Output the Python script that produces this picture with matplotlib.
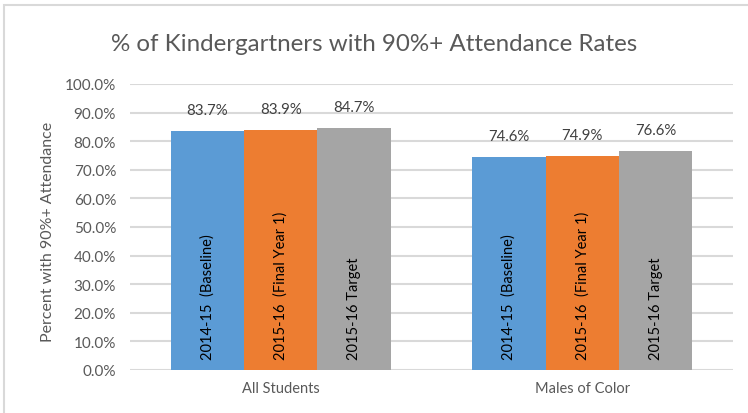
import matplotlib
matplotlib.use('Agg')
import matplotlib.pyplot as plt
import numpy as np
from matplotlib.ticker import FuncFormatter
from matplotlib.patches import Rectangle

categories = ['All Students', 'Males of Color']
series_names = ['2014-15  (Baseline)', '2015-16  (Final Year 1)', '2015-16 Target']
baseline = [83.7, 74.6]
final_year1 = [83.9, 74.9]
target = [84.7, 76.6]
colors = ['#5B9BD5', '#ED7D31', '#A5A5A5']

plt.rcParams['font.family'] = ['Lato', 'DejaVu Sans']
text_gray = '#595959'

fig = plt.figure(figsize=(7.48, 4.14), dpi=100)
fig.patches.append(Rectangle((4 / 748, -0.1), 1.2, (414 - 6) / 414 + 0.1,
                             transform=fig.transFigure, fill=False,
                             edgecolor='#D9D9D9', lw=1.5))
ax = fig.add_axes([0.1738, 0.1039, 0.8062, 0.6908])

x = np.arange(len(categories))
w = 0.243
for i, (vals, name, c) in enumerate(zip([baseline, final_year1, target], series_names, colors)):
    pos = x + (i - 1) * w
    bars = ax.bar(pos, vals, w, color=c, zorder=2)
    for b, v in zip(bars, vals):
        ax.annotate('%.1f%%' % v, (b.get_x() + b.get_width() / 2, v),
                    xytext=(0, 10), textcoords='offset points',
                    ha='center', va='bottom', fontsize=10.8, color='#404040')
        ax.text(b.get_x() + b.get_width() / 2, 3.8, name, rotation=90,
                ha='center', va='bottom', fontsize=10.5, color='#000000')

ax.set_xlim(-0.5, 1.5)
ax.set_ylim(0, 100)
ax.set_yticks(np.arange(0, 101, 10))
ax.yaxis.set_major_formatter(FuncFormatter(lambda v, p: '%.1f%%' % v))
ax.set_xticks(x)
ax.set_xticklabels(categories)
ax.tick_params(length=0, labelsize=10.5, colors=text_gray, pad=8)
ax.tick_params(axis='y', labelsize=11, pad=10)
ax.grid(axis='y', color='#D9D9D9', lw=1.5, zorder=0)
ax.set_axisbelow(True)
for s in ax.spines.values():
    s.set_visible(False)

ax.set_ylabel('Percent with 90%+ Attendance', fontsize=11.5, color=text_gray)
ax.yaxis.set_label_coords(-0.124, 0.485)
fig.text(0.5, 0.892, '% of Kindergartners with 90%+ Attendance Rates',
         ha='center', va='center', fontsize=17.4, color=text_gray)

fig.savefig('out.png', dpi=100)
